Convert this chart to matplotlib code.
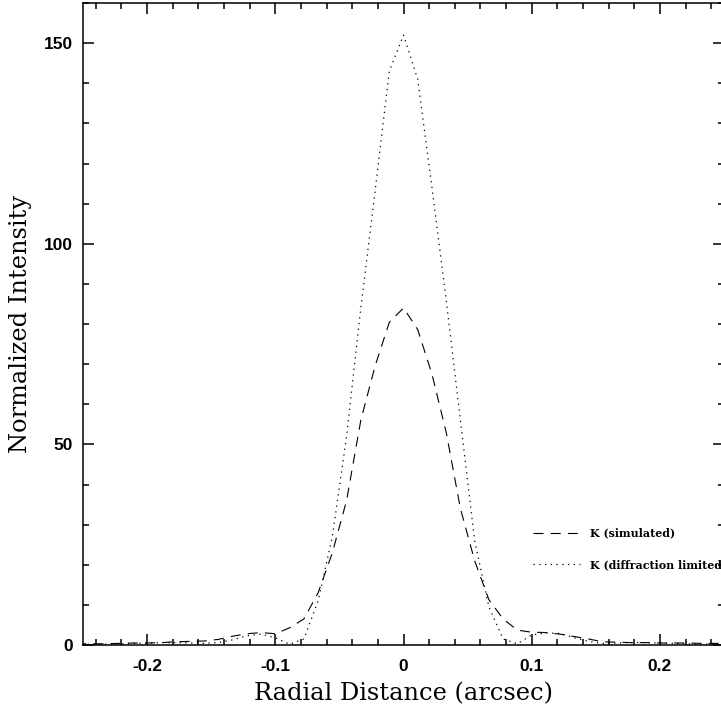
import matplotlib
matplotlib.use("Agg")
import matplotlib.pyplot as plt
from matplotlib.ticker import MultipleLocator

# sample positions (arcsec) of the radial profiles
radius = [-0.2553, -0.2442, -0.2331, -0.2220, -0.2109, -0.1998, -0.1887, -0.1776,
          -0.1665, -0.1554, -0.1443, -0.1332, -0.1221, -0.1110, -0.0999, -0.0888,
          -0.0777, -0.0666, -0.0555, -0.0444, -0.0333, -0.0222, -0.0111, 0.0,
          0.0111, 0.0222, 0.0333, 0.0444, 0.0555, 0.0666, 0.0777, 0.0888,
          0.0999, 0.1110, 0.1221, 0.1332, 0.1443, 0.1554, 0.1665, 0.1776,
          0.1887, 0.1998, 0.2109, 0.2220, 0.2331, 0.2442, 0.2553]

k_simulated = [0.3, 0.3, 0.3, 0.4, 0.5, 0.5, 0.6, 0.8,
               0.9, 1.0, 1.4, 2.2, 2.8, 3.1, 2.8, 4.3,
               6.5, 13.0, 23.0, 36.0, 56.0, 69.5, 80.4, 84.0,
               78.6, 67.5, 53.0, 34.0, 21.0, 11.3, 6.5, 3.7,
               3.2, 3.1, 2.7, 2.1, 1.5, 0.8, 0.7, 0.6,
               0.6, 0.5, 0.5, 0.5, 0.4, 0.4, 0.4]

k_diffraction = [0.2, 0.2, 0.2, 0.3, 0.4, 0.5, 0.6, 0.6,
                 0.5, 0.4, 0.6, 1.3, 2.3, 2.7, 1.8, 0.2,
                 1.5, 11.0, 27.0, 52.0, 84.0, 113.0, 143.0, 152.0,
                 141.0, 114.0, 86.0, 56.0, 26.0, 9.5, 1.5, 0.3,
                 2.5, 3.0, 2.9, 1.8, 0.9, 0.4, 0.5, 0.6,
                 0.6, 0.5, 0.4, 0.3, 0.2, 0.2, 0.2]

fig = plt.figure(figsize=(7.21, 7.10), dpi=100)
ax = fig.add_axes([83 / 721, 65 / 710, 641 / 721, 642 / 710])

ax.plot(radius, k_simulated, color="black", lw=0.8, linestyle=(0, (9, 6.5)),
        label="K (simulated)")
ax.plot(radius, k_diffraction, color="black", lw=0.9, linestyle=(0, (1, 3.6)),
        label="K (diffraction limited)")

ax.set_xlim(-0.25, 0.25)
ax.set_ylim(0, 160)
ax.xaxis.set_minor_locator(MultipleLocator(0.02))
ax.yaxis.set_major_locator(MultipleLocator(50))
ax.yaxis.set_minor_locator(MultipleLocator(10))
ax.set_xticks([-0.2, -0.1, 0, 0.1, 0.2])
ax.set_xticklabels(["-0.2", "-0.1", "0", "0.1", "0.2"])

ax.tick_params(which="both", direction="in", top=True, right=True, width=1.1, color="black")
ax.tick_params(which="major", length=8)
ax.tick_params(which="minor", length=4.3)
ax.tick_params(axis="x", pad=10)
ax.tick_params(axis="y", pad=7)
for lab in ax.get_xticklabels() + ax.get_yticklabels():
    lab.set_fontfamily("Liberation Sans")
    lab.set_fontweight("bold")
    lab.set_fontsize(12.5)
for sp in ax.spines.values():
    sp.set_linewidth(1.1)

ax.set_xlabel("Radial Distance (arcsec)", family="DejaVu Serif", fontsize=17.4, labelpad=6)
ax.set_ylabel("Normalized Intensity", family="DejaVu Serif", fontsize=17.4, labelpad=9)

# the reference crops the end of the second legend entry at the figure edge
ax.legend(loc="upper left", bbox_to_anchor=(0.695, 0.19), frameon=False,
          prop={"family": "DejaVu Serif", "size": 7.9, "weight": "bold"},
          handlelength=4.3, handletextpad=0.9, labelspacing=1.9, borderaxespad=0)

fig.savefig("out.png", dpi=100)
